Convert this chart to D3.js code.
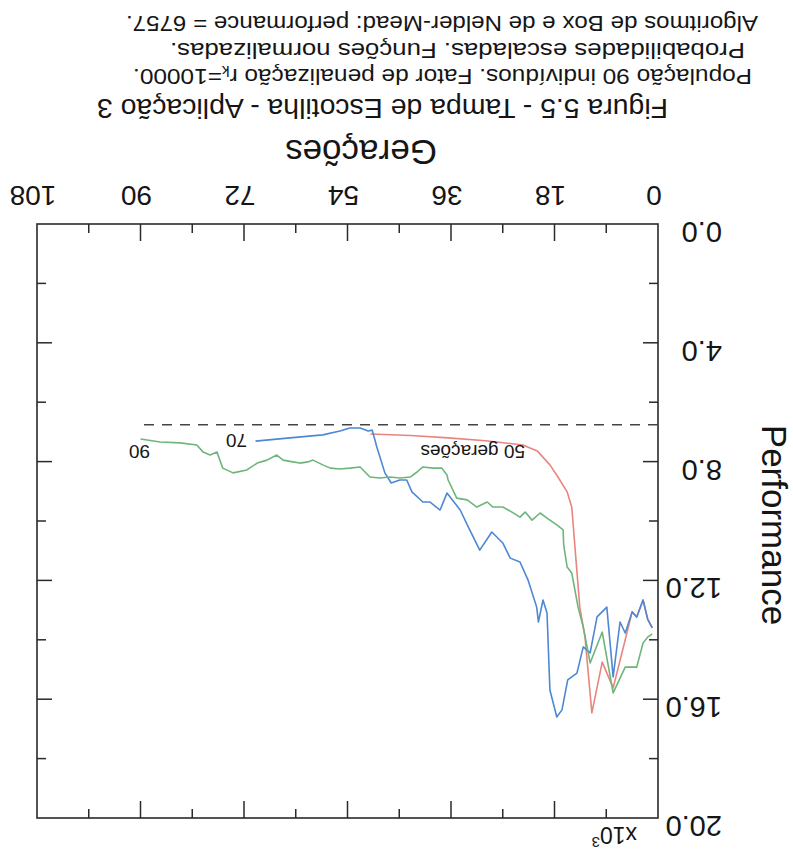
<!DOCTYPE html>
<html>
<head>
<meta charset="utf-8">
<script src="https://cdn.jsdelivr.net/npm/d3@7"></script>
<style>
  body { margin: 0; background: #fff; }
  text { font-family: "Liberation Sans", Arial, sans-serif; fill: #151515; }
</style>
</head>
<body>
<svg id="chart" width="793" height="855"></svg>
<script>
// Generations axis and performance axis (performance in units of 10^3)
const genTicks = [0, 18, 36, 54, 72, 90, 108];
const perfTicks = [0, 4, 8, 12, 16, 20];

// Run with 50 generations
const gens50 = [1, 1.8, 2.6, 3.7, 4.5, 5.7, 7.8, 9.7, 11.5, 12.7, 13.6, 14.4, 14.8, 15.0, 15.8, 17.4, 18.8, 21.0, 23.5, 30, 36.5, 43, 50];
const perf50 = [13.6, 13.3, 12.66, 13.23, 13.06, 14.0, 15.62, 14.75, 16.46, 13.9, 12.9, 10.98, 10.0, 9.53, 9.02, 8.52, 8.11, 7.64, 7.44, 7.3, 7.2, 7.12, 7.07];

// Run with 70 generations
const gens70 = [1, 1.8, 2.6, 3.7, 4.5, 5.7, 6.6, 7.8, 8.9, 10.6, 11.8, 13.0, 14.1, 15.7, 16.7, 17.6, 18.8, 19.3, 20.0, 20.8, 21.1, 22.6, 24.0, 25.7, 27.0, 28.9, 31.0, 33.0, 34.4, 36.7, 37.9, 39.7, 40.9, 42.8, 43.7, 44.9, 46.4, 47.5, 48.9, 49.7, 50.4, 51.8, 53.6, 55.3, 58.3, 64.0, 70];
const perf70 = [13.6, 13.3, 12.66, 13.23, 13.06, 13.77, 13.4, 15.25, 12.9, 13.23, 14.44, 14.24, 15.12, 15.35, 16.36, 16.6, 15.69, 13.1, 12.66, 13.4, 12.9, 11.99, 11.38, 11.25, 10.74, 10.37, 10.98, 10.2, 9.63, 9.06, 9.63, 9.36, 9.36, 9.02, 8.62, 8.62, 8.72, 8.38, 7.51, 6.94, 6.97, 6.87, 6.87, 6.97, 7.1, 7.2, 7.31];

// Run with 90 generations
const gens90 = [1, 1.8, 2.6, 3.7, 5.7, 7.8, 9.7, 11.8, 13.0, 13.9, 15.0, 15.8, 16.4, 16.5, 17.6, 18.8, 19.3, 20.5, 21.9, 23.1, 24.0, 25.4, 27.0, 28.7, 29.7, 31.5, 33.2, 35.0, 36.5, 36.7, 37.6, 39.1, 40.9, 41.9, 43.1, 44.9, 46.6, 48.4, 50.1, 51.8, 53.6, 55.3, 57.0, 58.3, 60.0, 60.9, 62.3, 63.5, 65.2, 66.3, 68.0, 69.7, 71.5, 73.9, 75.7, 76.7, 77.9, 79.1, 80.2, 83.1, 86.6, 90];
const perf90 = [13.8, 13.91, 14.11, 14.92, 14.92, 15.79, 13.74, 14.78, 13.57, 12.9, 11.75, 11.55, 10.81, 10.3, 10.13, 9.97, 9.9, 9.73, 9.97, 9.7, 9.87, 9.7, 9.53, 9.53, 9.36, 9.53, 9.29, 9.23, 8.62, 8.45, 8.22, 8.22, 8.18, 8.35, 8.52, 8.55, 8.52, 8.55, 8.52, 8.18, 8.22, 8.25, 8.22, 8.11, 7.95, 8.01, 8.05, 8.01, 7.95, 7.78, 7.95, 8.05, 8.28, 8.38, 8.22, 7.68, 7.78, 7.68, 7.44, 7.37, 7.34, 7.24];

// Box and Nelder-Mead reference performance
const referencePerformance = 6757;
const referenceGens = [0, 90];

const seriesColors = ["#e8867e", "#4d88d4", "#6db57b"];
const seriesLabels = ["50 gerações", "70", "90"];

const svg = d3.select("#chart");
// The whole figure is drawn in its own frame and turned half a turn.
const root = svg.append("g").attr("transform", "rotate(180,396.5,427.5)");

const plotLeft = 135, plotRight = 756, plotTop = 37, plotBottom = 631;
const x = d3.scaleLinear().domain([0, 108]).range([plotLeft, plotRight]);
const y = d3.scaleLinear().domain([0, 20]).range([plotBottom, plotTop]);

const axisColor = "#2a2a2a";
const majorLen = 17, minorLen = 9;
const minorGen = d3.range(9, 108, 18);
const minorPerf = d3.range(2, 20, 4);

// Frame
root.append("rect")
  .attr("x", plotLeft).attr("y", plotTop)
  .attr("width", plotRight - plotLeft).attr("height", plotBottom - plotTop)
  .attr("fill", "none").attr("stroke", axisColor).attr("stroke-width", 1.6);

// Inward ticks on all four sides
const ticks = root.append("g").attr("stroke", axisColor).attr("stroke-width", 1.5);
function vTicks(values, len) {
  values.forEach(v => {
    ticks.append("line").attr("x1", x(v)).attr("x2", x(v)).attr("y1", plotBottom).attr("y2", plotBottom - len);
    ticks.append("line").attr("x1", x(v)).attr("x2", x(v)).attr("y1", plotTop).attr("y2", plotTop + len);
  });
}
function hTicks(values, len) {
  values.forEach(v => {
    ticks.append("line").attr("y1", y(v)).attr("y2", y(v)).attr("x1", plotLeft).attr("x2", plotLeft + len);
    ticks.append("line").attr("y1", y(v)).attr("y2", y(v)).attr("x1", plotRight).attr("x2", plotRight - len);
  });
}
vTicks(genTicks.slice(1, -1), majorLen);
vTicks(minorGen, minorLen);
hTicks(perfTicks.slice(1, -1), 15);
hTicks(minorPerf, minorLen);

// Tick labels
root.append("g").selectAll("text").data(genTicks).join("text")
  .attr("x", d => x(d) + 4).attr("y", 669)
  .attr("text-anchor", "middle").attr("font-size", 28)
  .text(d => d);
root.append("g").selectAll("text").data(perfTicks).join("text")
  .attr("x", 71).attr("y", d => y(d) + 2)
  .attr("text-anchor", "start").attr("font-size", 29)
  .text(d => d3.format(".1f")(d));

// Scale factor
const sf = root.append("text").attr("x", 156).attr("y", 28).attr("font-size", 23);
sf.append("tspan").text("x10");
sf.append("tspan").attr("font-size", 15).attr("dy", -10).text("3");

// Axis titles
root.append("text")
  .attr("transform", "translate(31,330) rotate(-90)")
  .attr("text-anchor", "middle").attr("font-size", 35)
  .text("Performance");
root.append("text")
  .attr("x", 432).attr("y", 715).attr("text-anchor", "middle")
  .attr("font-size", 35).text("Gerações");

// Caption
root.append("text").attr("x", 125).attr("y", 756).attr("font-size", 27)
  .attr("textLength", 571).attr("lengthAdjust", "spacingAndGlyphs")
  .text("Figura 5.5 - Tampa de Escotilha - Aplicação 3");
const c1 = root.append("text").attr("x", 41).attr("y", 786).attr("font-size", 22.5)
  .attr("textLength", 619).attr("lengthAdjust", "spacingAndGlyphs");
c1.append("tspan").text("População 90 indivíduos. Fator de penalização r");
c1.append("tspan").attr("font-size", 14).attr("dy", 3).text("k");
c1.append("tspan").attr("dy", -3).text("=10000.");
root.append("text").attr("x", 48).attr("y", 812).attr("font-size", 22.5)
  .attr("textLength", 575).attr("lengthAdjust", "spacingAndGlyphs")
  .text("Probabilidades escaladas. Funções normalizadas.");
root.append("text").attr("x", 35).attr("y", 839).attr("font-size", 22.5)
  .attr("textLength", 632).attr("lengthAdjust", "spacingAndGlyphs")
  .text("Algoritmos de Box e de Nelder-Mead: performance = 6757.");

// Reference line
root.append("line")
  .attr("x1", x(referenceGens[0])).attr("x2", x(referenceGens[1]))
  .attr("y1", y(referencePerformance / 1000)).attr("y2", y(referencePerformance / 1000))
  .attr("stroke", "#444").attr("stroke-width", 1.4).attr("stroke-dasharray", "10,8");

// Series
const series = [
  gens50.map((g, i) => [g, perf50[i]]),
  gens70.map((g, i) => [g, perf70[i]]),
  gens90.map((g, i) => [g, perf90[i]])
];
const line = d3.line().x(d => x(d[0])).y(d => y(d[1]));
root.append("g").selectAll("path").data(series).join("path")
  .attr("d", line).attr("fill", "none")
  .attr("stroke", (d, i) => seriesColors[i]).attr("stroke-width", 1.6)
  .attr("stroke-linejoin", "round");

// End-of-run labels
const labelPos = [[268, 410], [546, 421], [643, 410]];
root.append("g").selectAll("text").data(seriesLabels).join("text")
  .attr("x", (d, i) => labelPos[i][0]).attr("y", (d, i) => labelPos[i][1])
  .attr("font-size", 19).text(d => d);
</script>
</body>
</html>
